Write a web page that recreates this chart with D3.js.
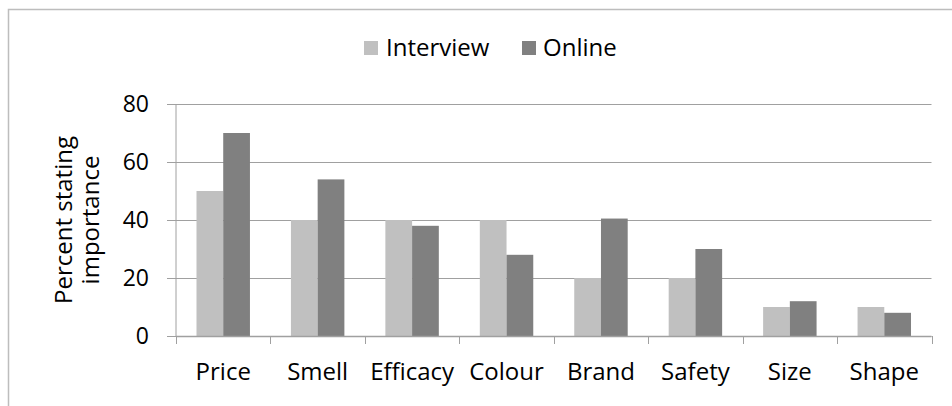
<!DOCTYPE html>
<html>
<head>
<meta charset="utf-8">
<script src="https://cdn.jsdelivr.net/npm/d3@7"></script>
<style>
  html, body { margin: 0; padding: 0; background: #fff; }
  svg { display: block; }
  text { font-family: "Open Sans", sans-serif; fill: #000; }
</style>
</head>
<body>
<svg id="chart" width="952" height="406"></svg>
<script>
// Attributes rated by respondents, and share (%) stating each as important
const categories = ["Price", "Smell", "Efficacy", "Colour", "Brand", "Safety", "Size", "Shape"];
const seriesNames = ["Interview", "Online"];
const interviewValues = [50, 40, 40, 40, 20, 20, 10, 10];
const onlineValues = [70, 54, 38, 28, 40.5, 30, 12, 8];
const yTicks = [0, 20, 40, 60, 80];
const seriesColors = ["#c0c0c0", "#808080"];

const svg = d3.select("#chart");
const W = 952, H = 406;
const plot = { left: 176, right: 931.5, top: 104, bottom: 336 };

// Outer chart frame
svg.append("rect")
  .attr("x", 8.5).attr("y", 9.5)
  .attr("width", W).attr("height", H)
  .attr("fill", "none").attr("stroke", "#bdbdbd").attr("stroke-width", 1.5);

const x0 = d3.scaleBand()
  .domain(categories)
  .range([plot.left, plot.right])
  .paddingInner(0.434)
  .paddingOuter(0.217);

const x1 = d3.scaleBand()
  .domain(seriesNames)
  .range([0, x0.bandwidth()]);

const y = d3.scaleLinear().domain([0, 80]).range([plot.bottom, plot.top]);
const color = d3.scaleOrdinal().domain(seriesNames).range(seriesColors);

// Horizontal gridlines (with short tick stubs left of the axis)
const yAxis = d3.axisLeft(y).tickValues(yTicks)
  .tickSize(-(plot.right - plot.left)).tickSizeOuter(0).tickPadding(27)
  .tickFormat(d3.format("d"));
const gy = svg.append("g").attr("transform", `translate(${plot.left},0)`).call(yAxis);
gy.select(".domain").remove();
gy.selectAll(".tick line")
  .attr("x1", -9)
  .attr("stroke", "#a0a0a0").attr("stroke-width", 1);
gy.selectAll(".tick text")
  .attr("font-size", 23).attr("font-family", "Open Sans").attr("fill", "#000");

// Vertical axis line
svg.append("line")
  .attr("x1", plot.left).attr("x2", plot.left)
  .attr("y1", y(80)).attr("y2", plot.bottom)
  .attr("stroke", "#a0a0a0").attr("stroke-width", 1);

// Bars
const rows = categories.map((c, i) => ({
  category: c,
  values: [
    { series: "Interview", value: interviewValues[i] },
    { series: "Online", value: onlineValues[i] }
  ]
}));

svg.append("g").selectAll("g")
  .data(rows).join("g")
  .attr("transform", d => `translate(${x0(d.category)},0)`)
  .selectAll("rect")
  .data(d => d.values).join("rect")
  .attr("x", d => x1(d.series))
  .attr("width", x1.bandwidth())
  .attr("y", d => y(d.value))
  .attr("height", d => y(0) - y(d.value))
  .attr("fill", d => color(d.series));

// Category axis: ticks at band boundaries
const step = x0.step();
const boundaries = d3.range(categories.length + 1).map(i => plot.left + i * step);
svg.append("line")
  .attr("x1", plot.left).attr("x2", plot.right)
  .attr("y1", plot.bottom + 0.5).attr("y2", plot.bottom + 0.5)
  .attr("stroke", "#a0a0a0").attr("stroke-width", 1.5);
svg.append("g").selectAll("line")
  .data(boundaries).join("line")
  .attr("x1", d => Math.round(d) + 0.5).attr("x2", d => Math.round(d) + 0.5)
  .attr("y1", plot.bottom).attr("y2", plot.bottom + 8)
  .attr("stroke", "#a0a0a0").attr("stroke-width", 1);

svg.append("g").selectAll("text")
  .data(categories).join("text")
  .attr("x", d => x0(d) + x0.bandwidth() / 2)
  .attr("y", 380)
  .attr("text-anchor", "middle")
  .attr("font-size", 24)
  .text(d => d);

// Y axis title
const title = svg.append("text")
  .attr("transform", `translate(72,220) rotate(-90)`)
  .attr("text-anchor", "middle")
  .attr("font-size", 24);
title.append("tspan").attr("x", 0).attr("dy", 0).text("Percent stating");
title.append("tspan").attr("x", 0).attr("dy", 27).text("importance");

// Legend
const legendItems = [
  { name: "Interview", sx: 364, tx: 386 },
  { name: "Online", sx: 522, tx: 543 }
];
const lg = svg.append("g");
legendItems.forEach(item => {
  lg.append("rect")
    .attr("x", item.sx).attr("y", 41)
    .attr("width", 14).attr("height", 14)
    .attr("fill", color(item.name));
  lg.append("text")
    .attr("x", item.tx).attr("y", 56)
    .attr("font-size", 24)
    .text(item.name);
});
</script>
</body>
</html>
